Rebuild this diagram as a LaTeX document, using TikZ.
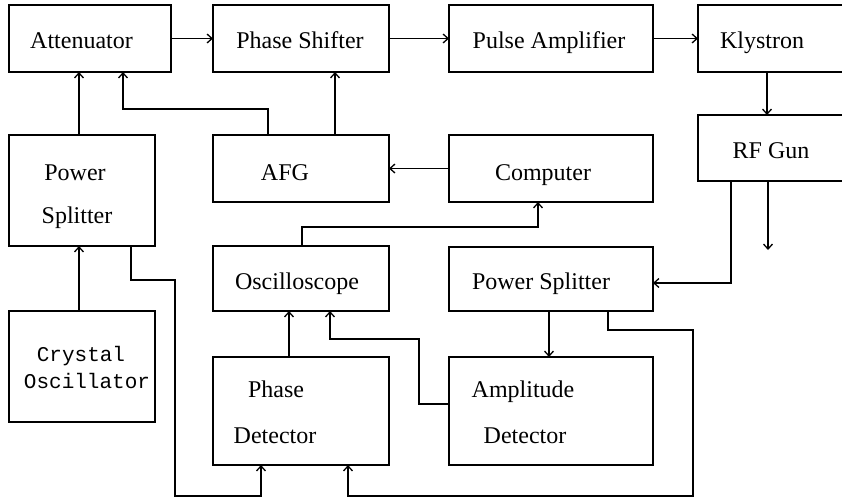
\documentclass[tikz,border=0pt]{standalone}
\usepackage{fontspec}
\setmainfont{Liberation Serif}
\newfontfamily\monofont{Liberation Mono}
\usetikzlibrary{arrows.meta}
\begin{document}
\begin{tikzpicture}[x=1pt,y=-1pt,
  box/.style={draw,line width=1.4pt,inner sep=0pt,outer sep=0pt,rectangle},
  txt/.style={inner sep=0pt,anchor=base,font=\fontsize{24}{26}\selectfont},
  mtxt/.style={inner sep=0pt,anchor=base,font=\monofont\fontsize{21}{24}\selectfont},
  conn/.style={line width=1.4pt},
  arr/.style={conn,-{Straight Barb[length=5pt,width=9pt,line width=1.3pt]}}]
\useasboundingbox (0,0) rectangle (842,499);
% boxes
\node[box,minimum width=162pt,minimum height=67pt] (att) at (90,38.5) {};
\node[box,minimum width=176pt,minimum height=67pt] (ps) at (301,38.5) {};
\node[box,minimum width=204pt,minimum height=67pt] (pa) at (551,38.5) {};
\node[box,minimum width=150pt,minimum height=67pt] (kly) at (773,38.5) {};
\node[box,minimum width=150pt,minimum height=66pt] (rfg) at (773,148) {};
\node[box,minimum width=146pt,minimum height=111pt] (psl) at (82,190.5) {};
\node[box,minimum width=176pt,minimum height=67pt] (afg) at (301,168.5) {};
\node[box,minimum width=204pt,minimum height=67pt] (comp) at (551,168.5) {};
\node[box,minimum width=176pt,minimum height=65pt] (osc) at (301,278.5) {};
\node[box,minimum width=204pt,minimum height=64pt] (psr) at (551,279) {};
\node[box,minimum width=146pt,minimum height=111pt] (xo) at (82,366.5) {};
\node[box,minimum width=176pt,minimum height=108pt] (pd) at (301,411) {};
\node[box,minimum width=204pt,minimum height=108pt] (ad) at (551,411) {};
% texts
\node[txt] (tatt) at (81.5,48) {Attenuator};
\node[txt] (tps) at (300,48) {Phase Shifter};
\node[txt] (tpa) at (549,48) {Pulse Amplifier};
\node[txt] (tkly) at (762,48) {Klystron};
\node[txt] (trfg) at (771,158) {RF Gun};
\node[txt] (tpsl1) at (75,180) {Power};
\node[txt] (tpsl2) at (77,223) {Splitter};
\node[txt] (tafg) at (285,180) {AFG};
\node[txt] (tcomp) at (543,180) {Computer};
\node[txt] (tosc) at (297,289) {Oscilloscope};
\node[txt] (tpsr) at (541,289) {Power Splitter};
\node[mtxt] (txo1) at (81,361) {Crystal};
\node[mtxt] (txo2) at (87,388) {Oscillator};
\node[txt] (tpd1) at (276,397) {Phase};
\node[txt] (tpd2) at (275,443) {Detector};
\node[txt] (tad1) at (523,397) {Amplitude};
\node[txt] (tad2) at (525,443) {Detector};
% connectors
\draw[arr] (att.east) -- (ps.west);
\draw[arr] (ps.east) -- (pa.west);
\draw[arr] (pa.east) -- (kly.west);
\draw[arr] (kly.south -| 767,0) -- (rfg.north -| 767,0);
\draw[arr] (rfg.south -| 731,0) -- (731,283) -- (psr.east |- 0,283);
\coordinate (rfout) at (768,250);
\draw[arr] (rfg.south -| 768,0) -- (rfout);
\draw[arr] (psl.north -| 79,0) -- (att.south -| 79,0);
\draw[arr] (afg.north -| 268,0) -- (268,109) -- (123,109) -- (att.south -| 123,0);
\draw[arr] (afg.north -| 335,0) -- (ps.south -| 335,0);
\draw[arr] (comp.west) -- (afg.east);
\draw[arr] (osc.north -| 302,0) -- (302,227) -- (538,227) -- (comp.south -| 538,0);
\draw[arr] (xo.north -| 79,0) -- (psl.south -| 79,0);
\draw[arr] (psl.south -| 131,0) -- (131,280) -- (175,280) -- (175,496) -- (261,496) -- (pd.south -| 261,0);
\draw[arr] (pd.north -| 289,0) -- (osc.south -| 289,0);
\draw[arr] (ad.west |- 0,404) -- (419,404) -- (419,339) -- (330,339) -- (osc.south -| 330,0);
\draw[arr] (psr.south -| 549,0) -- (ad.north -| 549,0);
\draw[arr] (psr.south -| 608,0) -- (608,330) -- (693,330) -- (693,496) -- (348,496) -- (pd.south -| 348,0);
\end{tikzpicture}
\end{document}
